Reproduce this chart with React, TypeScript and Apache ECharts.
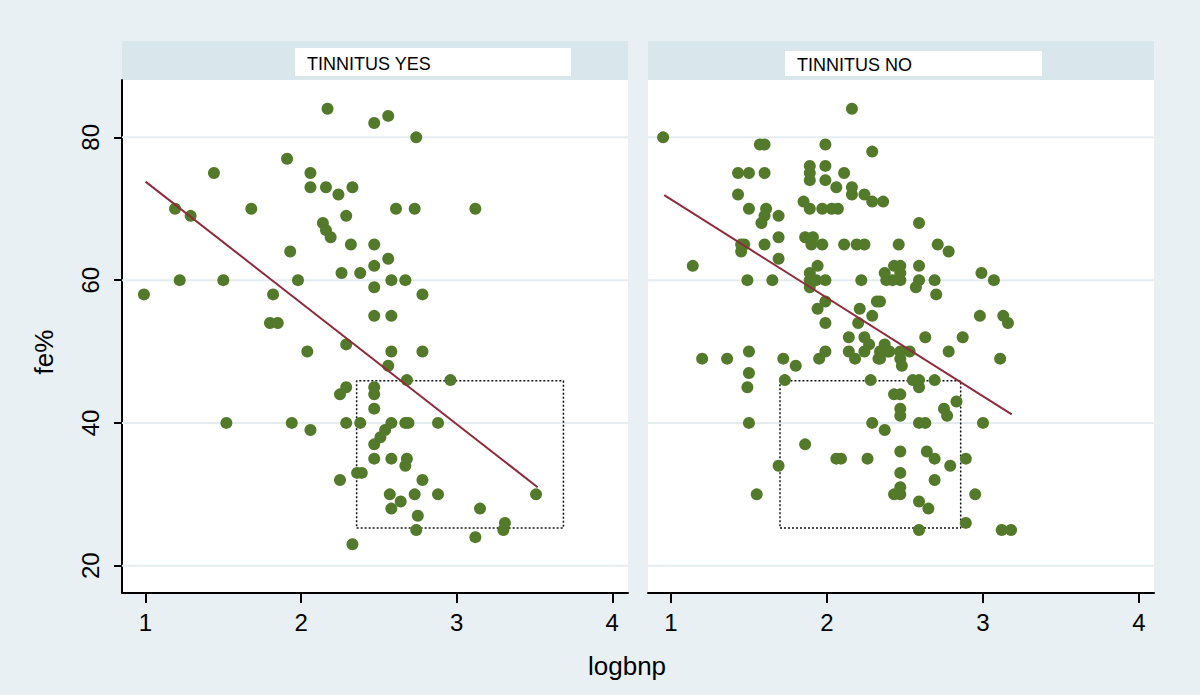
import React, { useEffect, useRef } from "react";
import * as echarts from "echarts";

// ---- data (logbnp, fe%) ----
const panelTitles = ["TINNITUS YES", "TINNITUS NO"];
const xTicks = [1, 2, 3, 4];
const yTicks = [20, 40, 60, 80];

const tinnitusYes: number[][] = [
  [0.99, 58], [1.19, 70], [1.29, 69], [1.22, 60], [1.44, 75], [1.5, 60], [1.52, 40], [1.68, 70],
  [1.8, 54], [1.85, 54], [1.82, 58], [1.91, 77], [1.93, 64], [1.94, 40], [1.98, 60], [2.04, 50],
  [2.06, 75], [2.06, 73], [2.06, 39], [2.14, 68], [2.16, 67], [2.16, 73], [2.17, 84], [2.19, 66],
  [2.24, 72], [2.25, 44], [2.25, 32], [2.26, 61], [2.29, 69], [2.29, 51], [2.29, 45], [2.29, 40],
  [2.32, 65], [2.33, 73], [2.33, 23], [2.36, 33], [2.39, 33], [2.38, 61], [2.38, 40], [2.47, 82],
  [2.47, 65], [2.47, 62], [2.47, 59], [2.47, 55], [2.47, 45], [2.47, 44], [2.47, 42], [2.47, 37],
  [2.47, 35], [2.51, 38], [2.54, 39], [2.56, 83], [2.56, 63], [2.56, 48], [2.57, 30], [2.58, 60],
  [2.58, 55], [2.58, 50], [2.58, 40], [2.58, 35], [2.58, 28], [2.61, 70], [2.64, 29], [2.67, 60],
  [2.67, 40], [2.69, 40], [2.67, 34], [2.68, 46], [2.68, 35], [2.73, 30], [2.73, 70], [2.74, 80],
  [2.74, 25], [2.75, 27], [2.78, 58], [2.78, 50], [2.78, 32], [2.88, 40], [2.88, 30], [2.96, 46],
  [3.12, 70], [3.12, 24], [3.15, 28], [3.3, 25], [3.31, 26], [3.51, 30],
];

const tinnitusNo: number[][] = [
  [0.95, 80], [1.14, 62], [1.2, 49], [1.36, 49], [1.43, 75], [1.43, 72], [1.45, 65], [1.47, 65],
  [1.45, 64], [1.49, 60], [1.5, 75], [1.5, 70], [1.5, 50], [1.5, 47], [1.49, 45], [1.5, 40],
  [1.55, 30], [1.57, 79], [1.6, 79], [1.6, 75], [1.61, 70], [1.6, 69], [1.58, 68], [1.6, 65],
  [1.65, 60], [1.69, 69], [1.69, 66], [1.69, 63], [1.69, 34], [1.72, 49], [1.73, 46], [1.8, 48],
  [1.85, 71], [1.86, 66], [1.86, 37], [1.89, 76], [1.89, 75], [1.89, 74], [1.89, 70], [1.89, 61],
  [1.89, 60], [1.89, 59], [1.9, 65], [1.91, 66], [1.93, 60], [1.94, 62], [1.94, 56], [1.95, 49],
  [1.97, 70], [1.97, 65], [1.99, 79], [1.99, 76], [1.99, 74], [1.99, 60], [1.99, 57], [1.99, 54],
  [1.99, 50], [2.03, 70], [2.07, 70], [2.06, 73], [2.06, 35], [2.09, 35], [2.11, 75], [2.11, 65],
  [2.14, 52], [2.14, 50], [2.16, 84], [2.16, 73], [2.16, 72], [2.18, 49], [2.19, 65], [2.2, 54],
  [2.21, 56], [2.22, 60], [2.24, 65], [2.24, 72], [2.24, 52], [2.24, 50], [2.26, 35], [2.27, 51],
  [2.28, 46], [2.29, 78], [2.29, 71], [2.29, 55], [2.29, 40], [2.32, 57], [2.33, 49], [2.34, 57],
  [2.34, 50], [2.34, 49], [2.36, 71], [2.37, 61], [2.38, 60], [2.37, 51], [2.37, 39], [2.39, 50],
  [2.42, 60], [2.43, 62], [2.43, 44], [2.43, 30], [2.46, 65], [2.47, 62], [2.47, 61], [2.47, 60],
  [2.47, 50], [2.47, 49], [2.48, 48], [2.47, 44], [2.47, 42], [2.47, 41], [2.47, 36], [2.47, 33],
  [2.47, 31], [2.47, 30], [2.4, 50], [2.53, 50], [2.55, 46], [2.57, 59], [2.59, 68], [2.59, 62],
  [2.59, 60], [2.59, 46], [2.59, 45], [2.59, 40], [2.59, 29], [2.59, 25], [2.63, 52], [2.63, 40],
  [2.64, 36], [2.65, 28], [2.69, 60], [2.69, 46], [2.69, 35], [2.69, 32], [2.7, 58], [2.71, 65],
  [2.75, 42], [2.77, 41], [2.78, 64], [2.78, 50], [2.79, 34], [2.83, 43], [2.87, 52], [2.89, 35],
  [2.89, 26], [2.95, 30], [2.98, 55], [2.99, 61], [3.0, 40], [3.07, 60], [3.11, 49], [3.12, 25],
  [3.13, 55], [3.16, 54], [3.18, 25],
];

// fitted lines (endpoints)
const fitYes: number[][] = [[1.0, 73.8], [3.52, 31.0]];
const fitNo: number[][] = [[0.957, 71.9], [3.184, 41.2]];

// dotted boxes
const boxYesX = [2.357, 3.686];
const boxNoX = [1.699, 2.857];
const boxY = [25.3, 45.9];

const xRangeYes = [0.849, 4.101];
const xRangeNo = [0.853, 4.096];
const yRange = [16.18, 88.03];

const FONT = "'Liberation Sans', Arial, sans-serif";
const GREEN = "#537a2b";
const LINE = "#8e2c3c";

export default function App() {
  const ref = useRef<HTMLDivElement>(null);

  useEffect(() => {
    if (!ref.current) return;
    const chart = echarts.init(ref.current, null, { renderer: "svg" });

    const panels = [
      { pts: tinnitusYes, fit: fitYes, boxX: boxYesX, xr: xRangeYes, left: 122 },
      { pts: tinnitusNo, fit: fitNo, boxX: boxNoX, xr: xRangeNo, left: 648 },
    ];

    const grid = panels.map((p) => ({
      left: p.left,
      top: 80,
      width: 506,
      height: 513,
      show: true,
      backgroundColor: "#ffffff",
      borderWidth: 0,
    }));

    const xAxis = panels.map((p, i) => ({
      type: "value",
      gridIndex: i,
      min: p.xr[0],
      max: p.xr[1],
      axisLine: { show: true, onZero: false, lineStyle: { color: "#000", width: 2 } },
      axisTick: { show: true, customValues: xTicks, length: 10, lineStyle: { color: "#000", width: 2 } },
      axisLabel: {
        customValues: xTicks,
        fontSize: 24,
        color: "#000",
        margin: 17,
        fontFamily: FONT,
      },
      splitLine: { show: false },
    }));

    const yAxis = panels.map((p, i) => ({
      type: "value",
      gridIndex: i,
      min: yRange[0],
      max: yRange[1],
      axisLine: { show: i === 0, onZero: false, lineStyle: { color: "#000", width: 2 } },
      axisTick: { show: i === 0, customValues: yTicks, length: 8, lineStyle: { color: "#000", width: 2 } },
      axisLabel: {
        show: i === 0,
        customValues: yTicks,
        rotate: 90,
        fontSize: 24,
        color: "#000",
        margin: 20,
        fontFamily: FONT,
      },
      splitLine: { show: false },
    }));

    const series: any[] = [];
    panels.forEach((p, i) => {
      yTicks.forEach((t) => {
        series.push({
          type: "line",
          xAxisIndex: i,
          yAxisIndex: i,
          data: [[p.xr[0], t], [p.xr[1], t]],
          symbol: "none",
          silent: true,
          z: 1,
          lineStyle: { color: "#e4ecf0", width: 2 },
        });
      });
      series.push({
        type: "line",
        xAxisIndex: i,
        yAxisIndex: i,
        data: [
          [p.boxX[0], boxY[0]],
          [p.boxX[1], boxY[0]],
          [p.boxX[1], boxY[1]],
          [p.boxX[0], boxY[1]],
          [p.boxX[0], boxY[0]],
        ],
        symbol: "none",
        silent: true,
        z: 2,
        lineStyle: { color: "#111", width: 1.5, type: [2, 2] },
      });
      series.push({
        type: "scatter",
        xAxisIndex: i,
        yAxisIndex: i,
        data: p.pts,
        symbol: "circle",
        symbolSize: 12,
        z: 3,
        itemStyle: { color: GREEN, opacity: 1 },
      });
      series.push({
        type: "line",
        xAxisIndex: i,
        yAxisIndex: i,
        data: p.fit,
        symbol: "none",
        z: 4,
        lineStyle: { color: LINE, width: 2 },
      });
    });

    const graphic: any[] = [];
    panels.forEach((p) => {
      graphic.push({
        type: "rect",
        shape: { x: p.left, y: 41, width: 506, height: 39 },
        style: { fill: "#d9e6ec" },
        silent: true,
      });
    });
    graphic.push({
      type: "rect",
      shape: { x: 295, y: 48, width: 276, height: 28 },
      style: { fill: "#ffffff" },
      silent: true,
    });
    graphic.push({
      type: "rect",
      shape: { x: 785, y: 51, width: 257, height: 25 },
      style: { fill: "#ffffff" },
      silent: true,
    });
    graphic.push({
      type: "text",
      x: 307,
      y: 64,
      style: { text: panelTitles[0], fontSize: 18, fill: "#000", fontFamily: FONT, verticalAlign: "middle" },
      silent: true,
    });
    graphic.push({
      type: "text",
      x: 797,
      y: 65,
      style: { text: panelTitles[1], fontSize: 18, fill: "#000", fontFamily: FONT, verticalAlign: "middle" },
      silent: true,
    });
    graphic.push({
      type: "text",
      x: 44,
      y: 352,
      rotation: Math.PI / 2,
      style: { text: "fe%", fontSize: 26, fill: "#000", fontFamily: FONT, align: "center", verticalAlign: "middle" },
      silent: true,
    });
    graphic.push({
      type: "text",
      x: 627,
      y: 666,
      style: { text: "logbnp", fontSize: 26, fill: "#000", fontFamily: FONT, align: "center", verticalAlign: "middle" },
      silent: true,
    });

    chart.setOption({
      animation: false,
      backgroundColor: "#e9f0f3",
      grid,
      xAxis,
      yAxis,
      series,
      graphic,
    });

    return () => chart.dispose();
  }, []);

  return (
    <div
      ref={ref}
      style={{ position: "fixed", left: 0, top: 0, width: 1200, height: 695 }}
    />
  );
}
